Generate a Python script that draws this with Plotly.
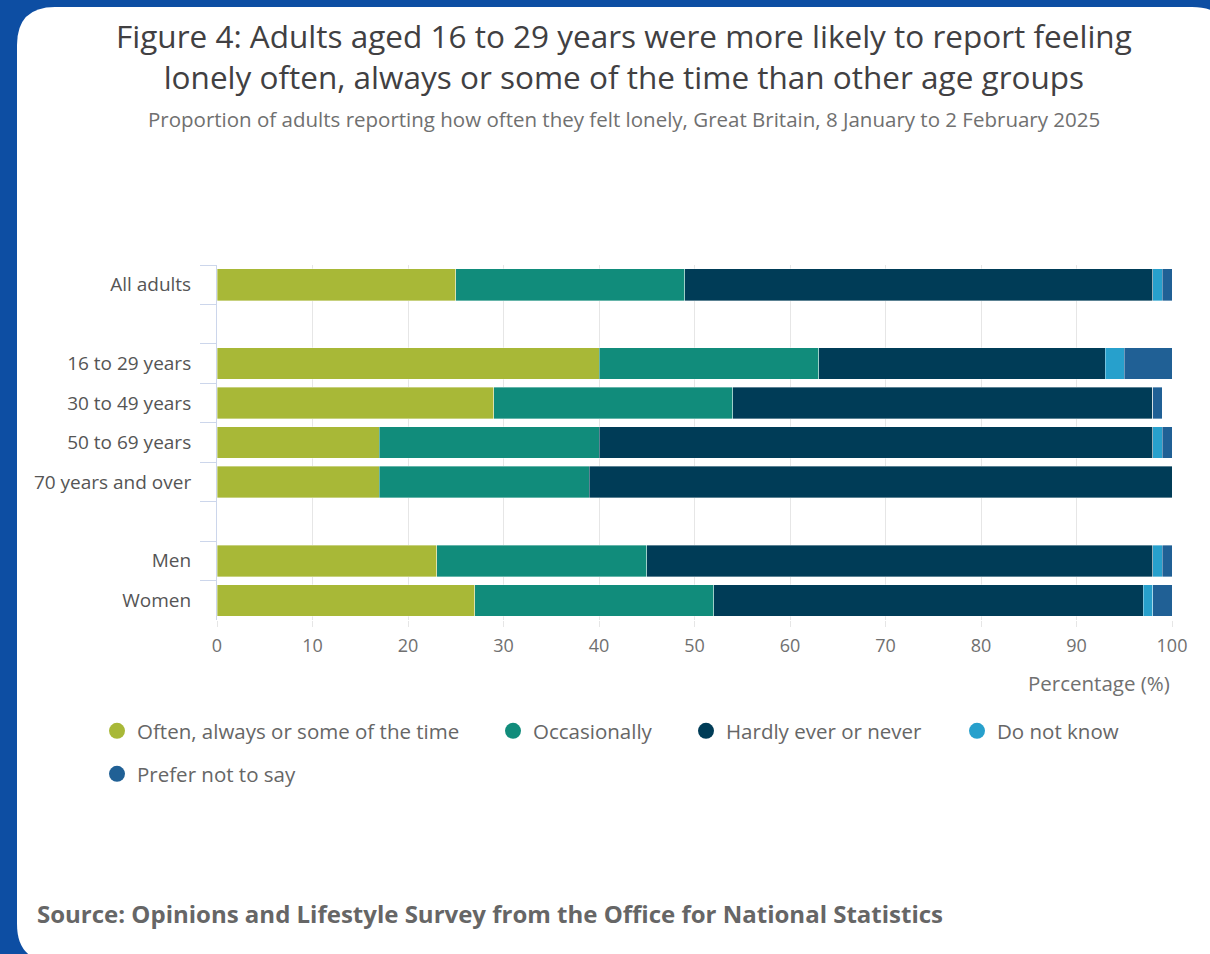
import plotly.graph_objects as go

W, H = 1210, 954
L, R, T, B = 217, 1172, 265, 620

categories = ["All adults", " ", "16 to 29 years", "30 to 49 years", "50 to 69 years",
              "70 years and over", "  ", "Men", "Women"]
series_names = ["Often, always or some of the time", "Occasionally", "Hardly ever or never",
                "Do not know", "Prefer not to say"]
often = [25, None, 40, 29, 17, 17, None, 23, 27]
occasionally = [24, None, 23, 25, 23, 22, None, 22, 25]
hardly = [49, None, 30, 44, 58, 61, None, 53, 45]
do_not_know = [1, None, 2, 0, 1, 0, None, 1, 1]
prefer_not = [1, None, 5, 1, 1, 0, None, 1, 2]
x_ticks = [0, 10, 20, 30, 40, 50, 60, 70, 80, 90, 100]
colors = ["#a8b837", "#118c7b", "#003c57", "#27a0cc", "#206095"]

values = [often, occasionally, hardly, do_not_know, prefer_not]


def px(xp):
    return (xp - L) / (R - L)


def py(yp):
    return (B - yp) / (B - T)


fig = go.Figure()
for name, vals, col in zip(series_names, values, colors):
    fig.add_trace(go.Bar(
        y=categories, x=vals, name=name, orientation="h",
        marker=dict(color=col, line=dict(color="rgba(255,255,255,0.6)", width=0.6)),
        showlegend=False,
    ))

# legend entries (circles), one legend each for exact placement
legend_pos = [(97, 731), (493, 731), (686, 731), (957, 731), (97, 774)]
legend_ids = ["legend", "legend2", "legend3", "legend4", "legend5"]
for name, col, lid in zip(series_names, colors, legend_ids):
    fig.add_trace(go.Scatter(
        x=[None], y=[None], mode="markers", name=name, legend=lid,
        marker=dict(color=col, size=16, symbol="circle"), showlegend=True,
    ))

legend_font = dict(family="Open Sans", size=20.5, color="#666666")
for (lx, ly), lid in zip(legend_pos, legend_ids):
    fig.update_layout(**{lid: dict(
        x=px(lx), y=py(ly), xanchor="left", yanchor="middle",
        orientation="h", font=legend_font, bgcolor="rgba(0,0,0,0)",
        itemclick=False, itemdoubleclick=False,
    )})

# card background
cl, ct, cr, cb, rad = 17, 7, 1230, 962, 38
path = (f"M {px(cl)},{py(ct + rad)} Q {px(cl)},{py(ct)} {px(cl + rad)},{py(ct)} "
        f"L {px(cr - rad)},{py(ct)} Q {px(cr)},{py(ct)} {px(cr)},{py(ct + rad)} "
        f"L {px(cr)},{py(cb - rad)} Q {px(cr)},{py(cb)} {px(cr - rad)},{py(cb)} "
        f"L {px(cl + rad)},{py(cb)} Q {px(cl)},{py(cb)} {px(cl)},{py(cb - rad)} Z")
fig.add_shape(type="path", path=path, xref="paper", yref="paper",
              fillcolor="white", line=dict(width=0), layer="below")

annotations = [
    dict(text="Figure 4: Adults aged 16 to 29 years were more likely to report feeling"
              "<br>lonely often, always or some of the time than other age groups",
         x=px(624), y=py(56), font=dict(family="Open Sans", size=31.5, color="#414042")),
    dict(text="Proportion of adults reporting how often they felt lonely, Great Britain, 8 January to 2 February 2025",
         x=px(624), y=py(119), font=dict(family="Open Sans", size=20.5, color="#707070")),
]
for a in annotations:
    a.update(xref="paper", yref="paper", xanchor="center", yanchor="middle",
             align="center", showarrow=False)
    fig.add_annotation(**a)

fig.add_annotation(text="Percentage (%)", x=px(1172), y=py(683), xref="paper", yref="paper",
                   xanchor="right", yanchor="middle", showarrow=False,
                   font=dict(family="Open Sans", size=20.5, color="#707070"))
fig.add_annotation(text="<b>Source: Opinions and Lifestyle Survey from the Office for National Statistics</b>",
                   x=px(35), y=py(913), xref="paper", yref="paper",
                   xanchor="left", yanchor="middle", showarrow=False,
                   font=dict(family="Open Sans", size=24, color="#666666"))

fig.update_layout(
    width=W, height=H,
    margin=dict(l=L, r=W - R, t=T, b=H - B, pad=0),
    paper_bgcolor="#0d4ea3",
    plot_bgcolor="rgba(0,0,0,0)",
    barmode="stack",
    bargap=0.2,
    font=dict(family="Open Sans", color="#707070"),
    xaxis=dict(
        range=[0, 100], tickvals=x_ticks, showgrid=True, gridcolor="#e6e6e6", gridwidth=1,
        zeroline=False, showline=False, ticks="outside", ticklen=6, tickcolor="#e6e6e6",
        tickfont=dict(family="Open Sans", size=18, color="#707070"), ticklabelstandoff=3,
        fixedrange=True,
    ),
    yaxis=dict(
        categoryorder="array", categoryarray=categories, autorange="reversed",
        showgrid=False, zeroline=False, showline=True, linecolor="#ccd6eb", linewidth=1,
        ticks="outside", tickson="boundaries", ticklen=16, tickcolor="#ccd6eb",
        tickfont=dict(family="Open Sans", size=19, color="#555555"), ticklabelstandoff=21,
        fixedrange=True,
    ),
)

fig.write_html(
    "out.html",
    config={"displayModeBar": False},
    post_script="document.body.style.margin='0';document.body.style.background='#0d4ea3';",
)
